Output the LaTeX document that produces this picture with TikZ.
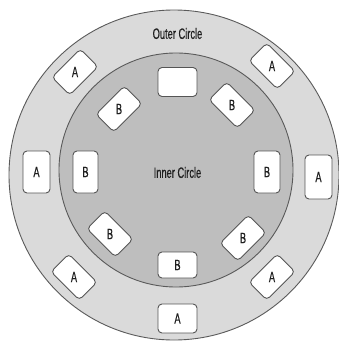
\documentclass[tikz,border=0pt]{standalone}
\usepackage{fontspec}
\newfontfamily\condfont[FakeStretch=0.62,FakeBold=0.4]{Liberation Sans}
\definecolor{outerfill}{HTML}{DADADA}
\definecolor{innerfill}{HTML}{BEBEBE}
\definecolor{ringline}{HTML}{5A5A5A}
\definecolor{cardline}{HTML}{555555}
\definecolor{labeltext}{HTML}{1E1E1E}
\begin{document}
\begin{tikzpicture}[x=1pt,y=1pt,
  ring/.style={circle, draw=ringline, line width=0.9pt, inner sep=0pt},
  card/.style={draw=cardline, fill=white, line width=0.9pt, rounded corners=4pt,
               minimum width=39pt, minimum height=27pt, inner sep=0pt},
  tall/.style={minimum height=29pt},
  slant/.style={minimum width=40pt, minimum height=25pt},
  lbl/.style={font=\condfont\fontsize{15}{15}\selectfont, text=labeltext, inner sep=0pt},
]
\useasboundingbox (0,0) rectangle (338,-343);

% the two table rings
\node[ring, fill=outerfill, minimum size=330pt] (outer) at (174,-175) {};
\node[ring, fill=innerfill, minimum size=234pt] (inner) at (176,-170) {};
\node[lbl] (outerlbl) at (177.5,-33.5) {Outer Circle};
\node[lbl] (innerlbl) at (177.5,-172.5) {Inner Circle};

% seats of the inner circle (B), the top one left empty
\node[card, tall]                (b0) at (177.5,-82)  {};
\node[card, slant, rotate=-45]   (b1) at (232,-105)   {};
\node[card, rotate=90, minimum width=42pt, minimum height=26pt] (b2) at (267,-172) {};
\node[card, slant, rotate=45]    (b3) at (243,-238)   {};
\node[card, minimum height=26pt] (b4) at (177.5,-265) {};
\node[card, slant, rotate=-45]   (b5) at (110,-234)   {};
\node[card, rotate=90, minimum width=42pt, minimum height=25pt] (b6) at (85.5,-172) {};
\node[card, slant, rotate=45]    (b7) at (119,-109)   {};

% seats of the outer circle (A)
\node[card, tall]                (a0) at (177.5,-318.5) {};
\node[card, slant, rotate=45]    (a1) at (272,-277)   {};
\node[card, rotate=90, minimum width=44pt] (a2) at (318.5,-177) {};
\node[card, slant, rotate=-45]   (a3) at (272,-66)    {};
\node[card, slant, rotate=45]    (a4) at (75,-72)     {};
\node[card, rotate=90, minimum width=42pt] (a5) at (36.5,-172) {};
\node[card, slant, rotate=-45]   (a6) at (74,-277)    {};

% seat letters, kept upright
\foreach \s in {b1,b2,b3,b4,b5,b6,b7} \node[lbl] at (\s) {B};
\foreach \s in {a0,a1,a2,a3,a4,a5,a6} \node[lbl] at (\s) {A};
\end{tikzpicture}
\end{document}
